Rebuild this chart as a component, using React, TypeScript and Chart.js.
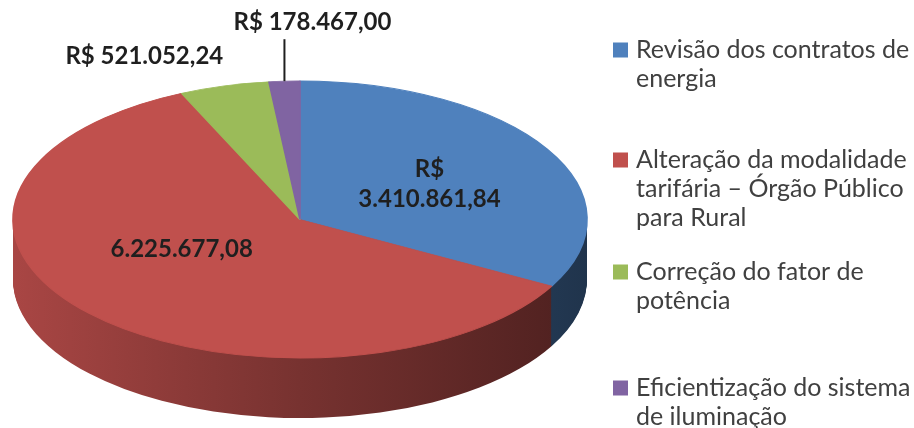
import React, { useEffect, useRef } from 'react';
import { Chart, registerables } from 'chart.js';

Chart.register(...registerables);

// ---- data ----
const categories = [
  'Revisão dos contratos de energia',
  'Alteração da modalidade tarifária – Órgão Público para Rural',
  'Correção do fator de potência',
  'Eficientização do sistema de iluminação',
];
const legendLines = [
  ['Revisão dos contratos de', 'energia'],
  ['Alteração da modalidade', 'tarifária – Órgão Público', 'para Rural'],
  ['Correção do fator de', 'potência'],
  ['Eficientização do sistema', 'de iluminação'],
];
const values = [3410861.84, 6225677.08, 521052.24, 178467.0];
const currencyPrefix = 'R$';
// how each value label shows the prefix: wrap = own line, none = no prefix, inline = same line
const labelPrefixMode = ['wrap', 'none', 'inline', 'inline'];
const colors = ['#4F81BD', '#C0504D', '#9BBB59', '#8064A2'];

// ---- style / layout ----
const DEPTH = 60;
const LABEL_FONT = 'bold 24px Lato';
const LABEL_COLOR = '#1f1f1f';
const LEGEND_FONT = '25px Lato';
const LEGEND_COLOR = '#404040';
const LEGEND_X = 613;
const LEGEND_BOX = 15;
const LEGEND_TEXT_X = 636;
const LEGEND_FIRST_Y = [50, 160, 272, 388];
const LEGEND_LINE_H = 29;
const labelPlacement = [
  { kind: 'inside', frac: 0.5, dx: 6, dy: 0 },
  { kind: 'inside', frac: 0.5, dx: -13, dy: -17 },
  { kind: 'outside', dx: -80, dy: -30 },
  { kind: 'leader', len: 42, dx: 28 },
];

const fmtBRL = (v: number) => {
  const [int, dec] = v.toFixed(2).split('.');
  return int.replace(/\B(?=(\d{3})+(?!\d))/g, '.') + ',' + dec;
};

const valueLabelLines = values.map((v, i) => {
  const s = fmtBRL(v);
  const m = labelPrefixMode[i];
  if (m === 'wrap') return [currencyPrefix, s];
  if (m === 'none') return [s];
  return [currencyPrefix + ' ' + s];
});

function hexToRgb(h: string) {
  const n = parseInt(h.slice(1), 16);
  return [(n >> 16) & 255, (n >> 8) & 255, n & 255];
}
function shade(h: string, f: number) {
  const [r, g, b] = hexToRgb(h);
  return `rgb(${Math.round(r * f)},${Math.round(g * f)},${Math.round(b * f)})`;
}

function geom(chart: any) {
  const a = chart.chartArea;
  const rx = (a.right - a.left) / 2;
  const ry = (a.bottom - a.top - DEPTH) / 2;
  const cx = (a.left + a.right) / 2;
  const cy = a.top + ry;
  return { rx, ry, cx, cy };
}

const pie3d = {
  id: 'pie3d',
  beforeDatasetDraw(chart: any, args: any) {
    const arcs = args.meta.data;
    const ctx = chart.ctx;
    ctx.save();
    if (!arcs.length) return;
    const g = geom(chart);
    const a0 = arcs[0];
    const ex = a0.x, ey = a0.y, r = a0.outerRadius;
    const apply = (dy: number) => {
      ctx.translate(g.cx, g.cy + dy);
      ctx.scale(g.rx / r, g.ry / r);
      ctx.translate(-ex, -ey);
    };
    const grads = colors.map((c) => {
      const gr = ctx.createLinearGradient(ex - r, 0, ex + r, 0);
      gr.addColorStop(0, shade(c, 0.88));
      gr.addColorStop(0.5, shade(c, 0.62));
      gr.addColorStop(1, shade(c, 0.4));
      return gr;
    });
    for (let d = DEPTH; d >= 1; d--) {
      ctx.save();
      apply(d);
      arcs.forEach((arc: any, i: number) => {
        const proxy = Object.create(arc);
        proxy.options = Object.assign({}, arc.options, {
          backgroundColor: grads[i],
          borderColor: grads[i],
          borderWidth: 0,
        });
        arc.draw.call(proxy, ctx);
      });
      ctx.restore();
    }
    apply(0);
  },
  afterDatasetDraw(chart: any) {
    chart.ctx.restore();
  },
  afterDraw(chart: any) {
    const ctx = chart.ctx;
    const meta = chart.getDatasetMeta(0);
    const g = geom(chart);
    ctx.save();
    ctx.font = LABEL_FONT;
    ctx.fillStyle = LABEL_COLOR;
    ctx.strokeStyle = LABEL_COLOR;
    ctx.textAlign = 'center';
    ctx.textBaseline = 'middle';
    const lh = 30;
    meta.data.forEach((arc: any, i: number) => {
      const mid = (arc.startAngle + arc.endAngle) / 2;
      const ux = Math.cos(mid), uy = Math.sin(mid);
      const p = labelPlacement[i];
      const lines = valueLabelLines[i];
      let x: number, y: number;
      if (p.kind === 'inside') {
        x = g.cx + g.rx * p.frac! * ux + p.dx;
        y = g.cy + g.ry * p.frac! * uy + p.dy!;
      } else if (p.kind === 'outside') {
        x = g.cx + g.rx * ux + p.dx;
        y = g.cy + g.ry * uy + p.dy!;
      } else {
        const rxp = g.cx + g.rx * ux;
        const ryp = g.cy + g.ry * uy;
        ctx.lineWidth = 2;
        ctx.beginPath();
        ctx.moveTo(rxp, ryp);
        ctx.lineTo(rxp, ryp - p.len!);
        ctx.stroke();
        x = rxp + p.dx;
        y = ryp - p.len! - 17;
      }
      const y0 = y - ((lines.length - 1) * lh) / 2;
      lines.forEach((t, k) => ctx.fillText(t, x, y0 + k * lh));
    });
    // legend
    ctx.font = LEGEND_FONT;
    ctx.textAlign = 'left';
    ctx.textBaseline = 'middle';
    legendLines.forEach((lines, i) => {
      const y = LEGEND_FIRST_Y[i];
      ctx.fillStyle = colors[i];
      ctx.fillRect(LEGEND_X, y - LEGEND_BOX / 2, LEGEND_BOX, LEGEND_BOX);
      ctx.fillStyle = LEGEND_COLOR;
      lines.forEach((t, k) => ctx.fillText(t, LEGEND_TEXT_X, y + k * LEGEND_LINE_H));
    });
    ctx.restore();
  },
};

export default function App() {
  const ref = useRef<HTMLCanvasElement | null>(null);
  useEffect(() => {
    if (!ref.current) return;
    const chart = new Chart(ref.current, {
      type: 'pie',
      data: {
        labels: categories,
        datasets: [
          {
            data: values,
            backgroundColor: colors,
            borderColor: colors,
            borderWidth: 1,
            hoverOffset: 0,
            clip: false as any,
          },
        ],
      },
      options: {
        responsive: false,
        animation: false,
        events: [],
        layout: { padding: { left: 13, top: 81, right: 327, bottom: 10 } },
        plugins: { legend: { display: false }, tooltip: { enabled: false } },
      },
      plugins: [pie3d],
    });
    (document as any).fonts?.ready?.then(() => chart.draw());
    return () => chart.destroy();
  }, []);
  return (
    <div style={{ position: 'absolute', left: 0, top: 0, width: 914, height: 428, background: '#fff' }}>
      <canvas ref={ref} width={914} height={428} style={{ display: 'block' }} />
    </div>
  );
}
